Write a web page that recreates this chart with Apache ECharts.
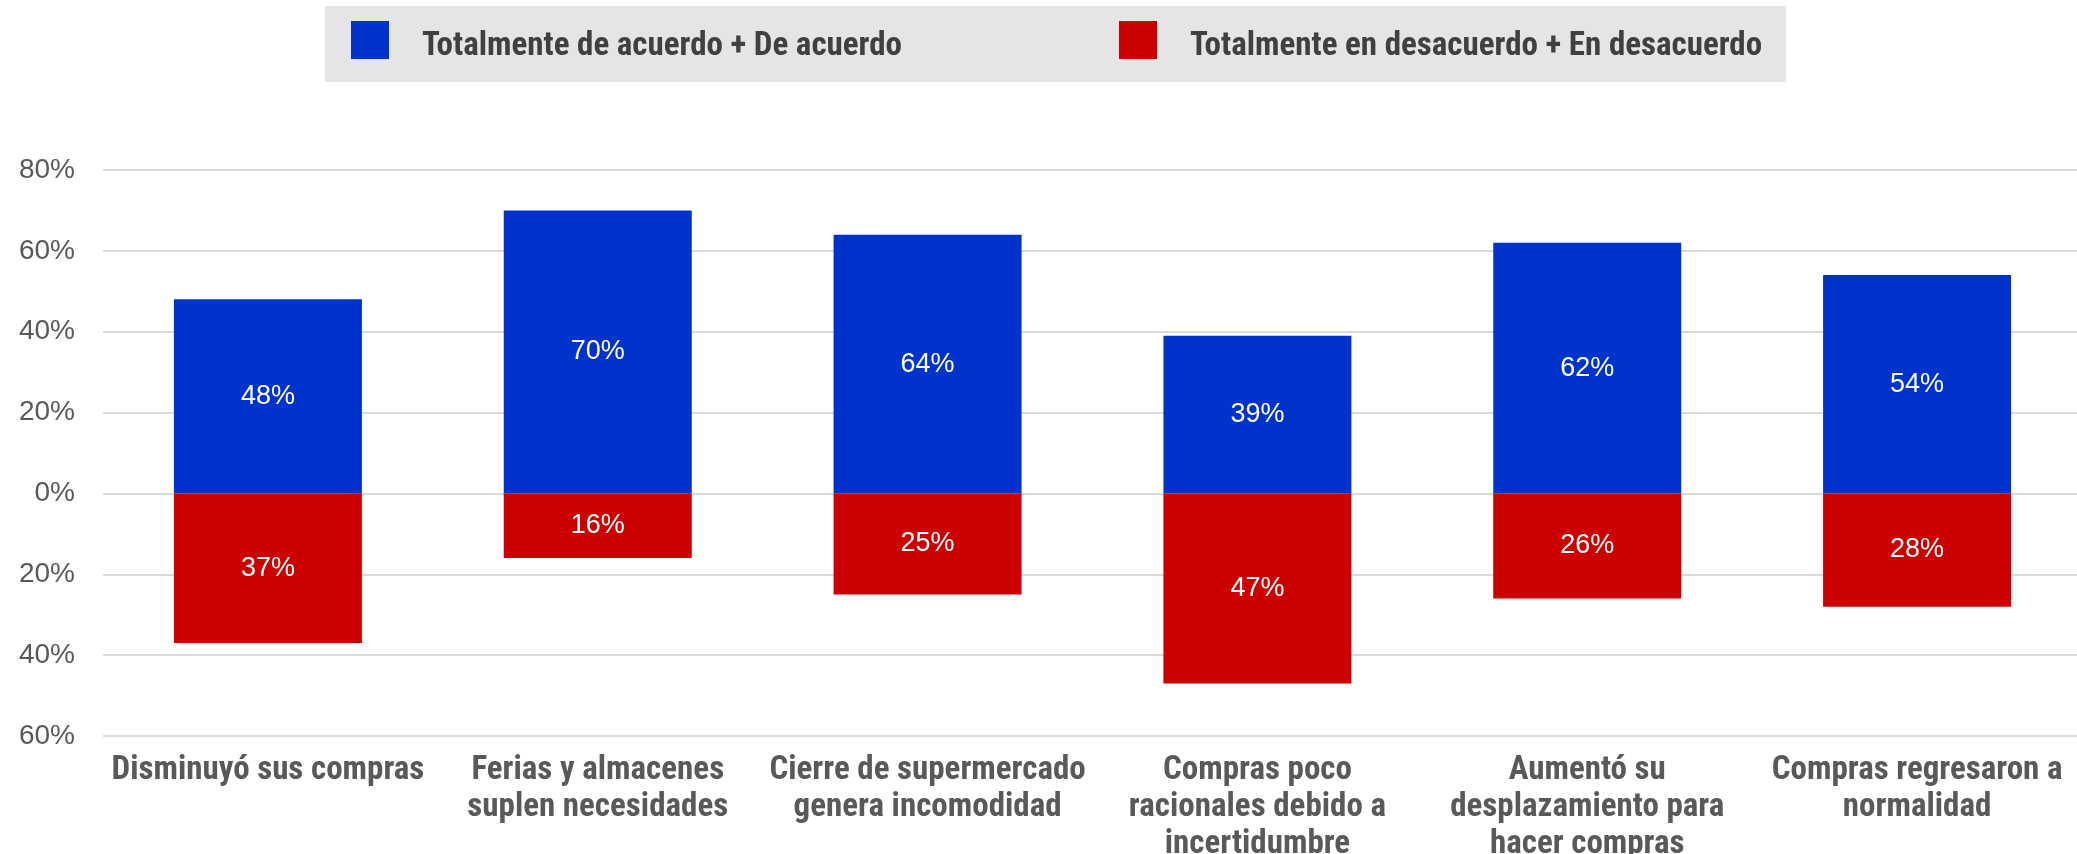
<!DOCTYPE html>
<html>
<head>
<meta charset="utf-8">
<script src="https://cdn.jsdelivr.net/npm/echarts@6/dist/echarts.min.js"></script>
<style>
html,body{margin:0;padding:0;background:#fff;}
#chart{width:2077px;height:854px;}
</style>
</head>
<body>
<div id="chart"></div>
<script>
const categories = [
  "Disminuyó sus compras",
  "Ferias y almacenes\nsuplen necesidades",
  "Cierre de supermercado\ngenera incomodidad",
  "Compras poco\nracionales debido a\nincertidumbre",
  "Aumentó su\ndesplazamiento para\nhacer compras",
  "Compras regresaron a\nnormalidad"
];
const seriesNames = ["Totalmente de acuerdo + De acuerdo", "Totalmente en desacuerdo + En desacuerdo"];
const agreeValues = [48, 70, 64, 39, 62, 54];
const disagreeValues = [37, 16, 25, 47, 26, 28];
const yTicks = { min: -60, max: 80, interval: 20 };

const narrow = "'Roboto Condensed', 'Liberation Sans Narrow', 'DejaVu Sans Condensed', sans-serif";
const regular = "'Liberation Sans', Arial, sans-serif";

const chart = echarts.init(document.getElementById('chart'));
const pct = v => Math.abs(Math.round(v)) + '%';

const legendText = {
  fontFamily: narrow, fontWeight: 'bold', fontSize: 33, color: '#404040', padding: [0, 0, 0, 28],
  rich: {
    g: { fontSize: 1, lineHeight: 14 },
    t: { fontFamily: narrow, fontWeight: 'bold', fontSize: 33, lineHeight: 33, color: '#404040' }
  }
};
const legendFormatter = n => '{g| }\n{t|' + n + '}';

chart.setOption({
  animation: false,
  backgroundColor: '#ffffff',
  graphic: [{
    type: 'rect', left: 325, top: 6, z: -1,
    shape: { width: 1461, height: 76 },
    style: { fill: '#e5e5e5' }
  }],
  legend: [
    { data: [seriesNames[0]], left: 351, top: 21, padding: 0, itemWidth: 38, itemHeight: 38, icon: 'rect', textStyle: legendText, formatter: legendFormatter },
    { data: [seriesNames[1]], left: 1119, top: 21, padding: 0, itemWidth: 38, itemHeight: 38, icon: 'rect', textStyle: legendText, formatter: legendFormatter }
  ],
  grid: { left: 103, right: -5, top: 170, bottom: 118, containLabel: false, outerBoundsMode: 'none' },
  xAxis: {
    type: 'category',
    data: categories,
    axisLine: { show: false },
    axisTick: { show: false },
    axisLabel: {
      interval: 0, margin: 16, hideOverlap: false,
      fontFamily: narrow, fontWeight: 'bold', fontSize: 33, lineHeight: 37,
      color: '#595959', align: 'center'
    }
  },
  yAxis: {
    type: 'value',
    min: yTicks.min, max: yTicks.max, interval: yTicks.interval,
    axisLine: { show: false },
    axisTick: { show: false },
    axisLabel: { formatter: v => Math.abs(v) + '%', fontFamily: regular, fontSize: 28, color: '#595959', margin: 28 },
    splitLine: { lineStyle: { color: '#d9d9d9', width: 2 } }
  },
  series: [
    {
      name: seriesNames[0], type: 'bar', stack: 's', barWidth: '57%',
      data: agreeValues,
      itemStyle: { color: '#0033cc' },
      label: { show: true, position: 'inside', color: '#ffffff', fontFamily: regular, fontSize: 27, formatter: p => pct(p.value) }
    },
    {
      name: seriesNames[1], type: 'bar', stack: 's', barWidth: '57%',
      data: disagreeValues.map(v => -v),
      itemStyle: { color: '#cc0000' },
      label: { show: true, position: 'inside', color: '#ffffff', fontFamily: regular, fontSize: 27, formatter: p => pct(p.value) }
    }
  ]
});
</script>
</body>
</html>
